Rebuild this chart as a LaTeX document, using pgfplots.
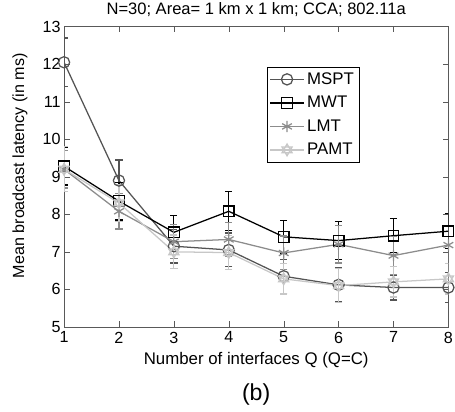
\documentclass[border=0pt]{standalone}
\usepackage{pgfplots}
\pgfplotsset{compat=1.18}
\usepackage{fontspec}
\setmainfont{Liberation Sans}
\pgfdeclareplotmark{hexagram}{%
  \pgfpathmoveto{\pgfqpoint{0pt}{\pgfplotmarksize}}%
  \pgfpathlineto{\pgfqpoint{0.866\pgfplotmarksize}{-0.5\pgfplotmarksize}}%
  \pgfpathlineto{\pgfqpoint{-0.866\pgfplotmarksize}{-0.5\pgfplotmarksize}}%
  \pgfpathclose
  \pgfpathmoveto{\pgfqpoint{0pt}{-\pgfplotmarksize}}%
  \pgfpathlineto{\pgfqpoint{0.866\pgfplotmarksize}{0.5\pgfplotmarksize}}%
  \pgfpathlineto{\pgfqpoint{-0.866\pgfplotmarksize}{0.5\pgfplotmarksize}}%
  \pgfpathclose
  \pgfusepathqstroke}
\definecolor{cmspt}{gray}{0.33}
\definecolor{clmt}{gray}{0.55}
\definecolor{cpamt}{gray}{0.78}
\begin{document}
\begin{tikzpicture}
\begin{axis}[
  scale only axis,
  at={(0,0)}, anchor=south west,
  width=274.3pt, height=214.3pt,
  xmin=1, xmax=8, ymin=5, ymax=13,
  xtick={1,...,8}, ytick={5,...,13},
  tick align=inside,
  major tick length=4pt,
  axis line style={gray!70!black},
  tick style={gray!70!black},
  /pgf/number format/assume math mode=true,
  ticklabel style={font=\fontsize{11.5}{13}\selectfont},
  yticklabel style={xshift=1pt},
  title={N=30; Area= 1 km x 1 km; CCA; 802.11a},
  title style={font=\fontsize{11.8}{13}\selectfont, at={(axis description cs:0.5,1)}, anchor=center, yshift=6.2pt},
  xlabel={Number of interfaces Q (Q=C)},
  ylabel={Mean broadcast latency (in ms)},
  xlabel style={font=\fontsize{12}{13}\selectfont, at={(axis description cs:0.5,0)}, anchor=center, yshift=-24pt},
  ylabel style={font=\fontsize{11.5}{13}\selectfont, at={(axis description cs:-0.1146,0.537)}, anchor=center},
  legend style={at={(0.527,0.867)}, anchor=north west, draw=black, font=\fontsize{12}{14}\selectfont, inner sep=2pt, row sep=3pt},
  legend image code/.code={\draw[mark repeat=2,mark phase=2] plot coordinates {(0cm,0cm) (0.42cm,0cm) (0.84cm,0cm)};},
  legend cell align=left,
  error bars/y dir=both, error bars/y explicit,
  error bars/error bar style={line width=0.8pt},
  error bars/error mark options={rotate=90, mark size=2.6pt, line width=0.9pt},
]
\addplot[cmspt, line width=0.9pt, mark=o, mark size=4pt, mark options={solid}, error bars/error bar style={cmspt}]
 coordinates {(1,12.05) +- (0,0.65) (2,8.9) +- (0,0.55) (3,7.15) +- (0,0.45) (4,7.05) +- (0,0.45) (5,6.35) +- (0,0.45) (6,6.12) +- (0,0.45) (7,6.05) +- (0,0.33) (8,6.05) +- (0,0.4)};
\addlegendentry{MSPT}
\addplot[black, line width=0.9pt, mark=square, mark size=3.8pt, error bars/error bar style={black}]
 coordinates {(1,9.28) +- (0,0.5) (2,8.35) +- (0,0.5) (3,7.52) +- (0,0.45) (4,8.08) +- (0,0.52) (5,7.4) +- (0,0.43) (6,7.3) +- (0,0.5) (7,7.43) +- (0,0.45) (8,7.55) +- (0,0.47)};
\addlegendentry{MWT}
\addplot[clmt, line width=0.9pt, mark=asterisk, mark size=4pt, error bars/error bar style={clmt}]
 coordinates {(1,9.2) +- (0,0.5) (2,8.08) +- (0,0.47) (3,7.27) +- (0,0.45) (4,7.33) +- (0,0.45) (5,6.97) +- (0,0.45) (6,7.2) +- (0,0.5) (7,6.9) +- (0,0.5) (8,7.18) +- (0,0.5)};
\addlegendentry{LMT}
\addplot[cpamt, line width=0.9pt, mark=hexagram, mark size=4.2pt, error bars/error bar style={cpamt}]
 coordinates {(1,9.2) +- (0,0.6) (2,8.3) +- (0,0.5) (3,7.0) +- (0,0.45) (4,6.98) +- (0,0.45) (5,6.28) +- (0,0.4) (6,6.1) +- (0,0.45) (7,6.2) +- (0,0.4) (8,6.28) +- (0,0.4)};
\addlegendentry{PAMT}
\end{axis}
\node[font=\fontsize{16.5}{18}\selectfont] at (137.1pt,-48.5pt) {(b)};
\pgfresetboundingbox
\path[use as bounding box] (-45.7pt,-60.7pt) rectangle (279pt,233.3pt);
\end{tikzpicture}
\end{document}
